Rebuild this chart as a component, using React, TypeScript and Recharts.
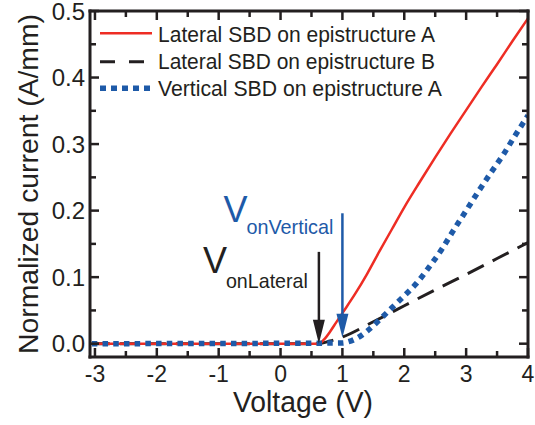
import React from "react";
import { LineChart, Line, XAxis, YAxis, ReferenceLine, Legend } from "recharts";

const FONT = "'Liberation Sans', Arial, Helvetica, sans-serif";
const INK = "#231f20";
const RED = "#ee2d24";
const BLUE = "#1e5aa8";

// Lateral SBD on epistructure A
const lateralAVoltage = [-3.05, 0.62, 0.7, 0.8, 0.9, 1.0, 1.2, 1.4, 1.6, 1.8, 2.0, 2.25, 2.5, 2.75, 3.0, 3.25, 3.5, 3.75, 4.0];
const lateralACurrent = [0, 0, 0.006, 0.018, 0.032, 0.046, 0.074, 0.105, 0.139, 0.172, 0.205, 0.243, 0.28, 0.316, 0.351, 0.386, 0.42, 0.455, 0.489];

// Lateral SBD on epistructure B
const lateralBVoltage = [-3.05, 0.62, 0.8, 1.0, 1.5, 2.0, 2.5, 3.0, 3.5, 4.0];
const lateralBCurrent = [0, 0, 0.004, 0.01, 0.033, 0.057, 0.081, 0.104, 0.128, 0.152];

// Vertical SBD on epistructure A
const verticalAVoltage = [-3.05, 1.0, 1.1, 1.25, 1.4, 1.6, 1.8, 2.0, 2.2, 2.4, 2.6, 2.8, 3.0, 3.2, 3.4, 3.6, 3.8, 4.0];
const verticalACurrent = [0, 0.001, 0.003, 0.009, 0.019, 0.036, 0.054, 0.072, 0.091, 0.115, 0.141, 0.171, 0.2, 0.229, 0.257, 0.284, 0.314, 0.343];

const voltageTicks = [-3, -2.5, -2, -1.5, -1, -0.5, 0, 0.5, 1, 1.5, 2, 2.5, 3, 3.5, 4];
const currentTicks = [0, 0.05, 0.1, 0.15, 0.2, 0.25, 0.3, 0.35, 0.4, 0.45, 0.5];

// turn-on voltage arrows (voltage, arrow top and tip in A/mm)
const onLateral = { v: 0.62, top: 0.138, tip: 0 };
const onVertical = { v: 1.0, top: 0.196, tip: 0.009 };

const toPoints = (vs: number[], is: number[]) => vs.map((v, k) => ({ v, i: is[k] }));

const series = [
  { name: "Lateral SBD on epistructure A", color: RED, dash: undefined, width: 2.5, data: toPoints(lateralAVoltage, lateralACurrent) },
  { name: "Lateral SBD on epistructure B", color: INK, dash: "18 10", width: 3, data: toPoints(lateralBVoltage, lateralBCurrent) },
  { name: "Vertical SBD on epistructure A", color: BLUE, dash: "5.5 5.2", width: 5.5, data: toPoints(verticalAVoltage, verticalACurrent) },
];
// black first so the red and blue traces sit on top of it
const drawOrder = [1, 0, 2];

const tickLen = (major: boolean) => (major ? 9 : 6);
const isMajorV = (v: number) => Number.isInteger(v);
const isMajorI = (v: number) => Math.abs(v * 10 - Math.round(v * 10)) < 1e-6;

const BottomTick = ({ x, y, payload }: any) => {
  const major = isMajorV(payload.value);
  return (
    <g>
      <line x1={x} x2={x} y1={y} y2={y - tickLen(major)} stroke={INK} strokeWidth={2.5} />
      {major && (
        <text x={x} y={y + 25} textAnchor="middle" fontSize={23} fill={INK} fontFamily={FONT}>
          {payload.value}
        </text>
      )}
    </g>
  );
};

const TopTick = ({ x, y, payload }: any) => (
  <line x1={x} x2={x} y1={y} y2={y + tickLen(isMajorV(payload.value))} stroke={INK} strokeWidth={2.5} />
);

const LeftTick = ({ x, y, payload }: any) => {
  const major = isMajorI(payload.value);
  return (
    <g>
      <line x1={x} x2={x + tickLen(major)} y1={y} y2={y} stroke={INK} strokeWidth={2.5} />
      {major && (
        <text x={x - 5} y={y + 8.5} textAnchor="end" fontSize={24} fill={INK} fontFamily={FONT}>
          {payload.value.toFixed(1)}
        </text>
      )}
    </g>
  );
};

const RightTick = ({ x, y, payload }: any) => (
  <line x1={x} x2={x - tickLen(isMajorI(payload.value))} y1={y} y2={y} stroke={INK} strokeWidth={2.5} />
);

const XTitle = ({ viewBox }: any) => (
  <text
    x={viewBox.x + viewBox.width / 2 - 6}
    y={viewBox.y + 55}
    textAnchor="middle"
    fontSize={29}
    fill={INK}
    fontFamily={FONT}
    textLength={140}
    lengthAdjust="spacingAndGlyphs"
  >
    Voltage (V)
  </text>
);

const YTitle = ({ viewBox }: any) => {
  const cx = 38;
  const cy = viewBox.y + viewBox.height / 2;
  return (
    <text
      x={cx}
      y={cy}
      transform={`rotate(-90, ${cx}, ${cy})`}
      textAnchor="middle"
      fontSize={28}
      fill={INK}
      fontFamily={FONT}
      textLength={340}
      lengthAdjust="spacingAndGlyphs"
    >
      Normalized current (A/mm)
    </text>
  );
};

// vertical arrow with a V_on label to its upper left
const arrowShape =
  (color: string, sub: string, dx: number, dy: number, subDy: number, subLen: number) => (props: any) => {
    const { x1, y1, x2, y2 } = props;
    const head = 24;
    return (
      <g>
        <line x1={x1} y1={y1} x2={x2} y2={y2 - head + 2} stroke={color} strokeWidth={2.5} />
        <polygon points={`${x2 - 6},${y2 - head} ${x2 + 6},${y2 - head} ${x2},${y2}`} fill={color} />
        <text x={x1 + dx} y={y1 + dy} fontSize={36} fill={color} fontFamily={FONT}>
          V
        </text>
        <text
          x={x1 + dx + 23}
          y={y1 + dy + subDy}
          fontSize={21}
          fill={color}
          fontFamily={FONT}
          textLength={subLen}
          lengthAdjust="spacingAndGlyphs"
        >
          {sub}
        </text>
      </g>
    );
  };

const LegendBox = () => {
  const rows = [
    { lineY: 13.3, textY: 21.7, len: 277 },
    { lineY: 41.7, textY: 49, len: 277 },
    { lineY: 68.3, textY: 75.5, len: 284 },
  ];
  const sample = [
    { dash: undefined, width: 2.5 },
    { dash: "15 14", width: 3 },
    { dash: "6 5", width: 5.5 },
  ];
  return (
    <svg width={360} height={86} style={{ display: "block" }}>
      {series.map((s, k) => (
        <g key={s.name}>
          <line
            x1={4}
            x2={56}
            y1={rows[k].lineY}
            y2={rows[k].lineY}
            stroke={s.color}
            strokeWidth={sample[k].width}
            strokeDasharray={sample[k].dash}
          />
          <text
            x={62}
            y={rows[k].textY}
            fontSize={22}
            fill={INK}
            fontFamily={FONT}
            textLength={rows[k].len}
            lengthAdjust="spacingAndGlyphs"
          >
            {s.name}
          </text>
        </g>
      ))}
    </svg>
  );
};

const frame = { stroke: INK, strokeWidth: 3, strokeLinecap: "square" as const };

export default function App() {
  return (
    <div style={{ position: "absolute", left: 0, top: 0, background: "#fff" }}>
      <LineChart width={535} height={425} margin={{ top: 10, right: 6, left: 0, bottom: 0 }}>
        <XAxis
          xAxisId="bottom"
          dataKey="v"
          type="number"
          domain={[-3.08, 4]}
          ticks={voltageTicks}
          interval={0}
          allowDataOverflow
          height={68}
          tickSize={0}
          tickMargin={0}
          tickLine={false}
          axisLine={frame}
          tick={BottomTick}
          label={XTitle}
        />
        <XAxis
          xAxisId="top"
          orientation="top"
          dataKey="v"
          type="number"
          domain={[-3.08, 4]}
          ticks={voltageTicks}
          interval={0}
          allowDataOverflow
          height={1}
          tickSize={0}
          tickMargin={0}
          tickLine={false}
          axisLine={frame}
          tick={TopTick}
        />
        <YAxis
          yAxisId="left"
          type="number"
          domain={[-0.02, 0.5]}
          ticks={currentTicks}
          interval={0}
          allowDataOverflow
          width={90}
          tickSize={0}
          tickMargin={0}
          tickLine={false}
          axisLine={frame}
          tick={LeftTick}
          label={YTitle}
        />
        <YAxis
          yAxisId="right"
          orientation="right"
          type="number"
          domain={[-0.02, 0.5]}
          ticks={currentTicks}
          interval={0}
          allowDataOverflow
          width={1}
          tickSize={0}
          tickMargin={0}
          tickLine={false}
          axisLine={frame}
          tick={RightTick}
        />
        <Legend
          layout="vertical"
          align="center"
          verticalAlign="middle"
          wrapperStyle={{ left: 96, top: 20, width: 360 }}
          content={LegendBox}
        />
        {drawOrder.map((k) => {
          const s = series[k];
          return (
            <Line
              key={s.name}
              name={s.name}
              data={s.data}
              dataKey="i"
              xAxisId="bottom"
              yAxisId="left"
              type="monotone"
              stroke={s.color}
              strokeWidth={s.width}
              strokeDasharray={s.dash}
              dot={false}
              activeDot={false}
              isAnimationActive={false}
            />
          );
        })}
        <ReferenceLine
          xAxisId="bottom"
          yAxisId="left"
          segment={[
            { x: onLateral.v, y: onLateral.top },
            { x: onLateral.v, y: onLateral.tip },
          ]}
          shape={arrowShape(INK, "onLateral", -116, 21, 15, 82)}
        />
        <ReferenceLine
          xAxisId="bottom"
          yAxisId="left"
          segment={[
            { x: onVertical.v, y: onVertical.top },
            { x: onVertical.v, y: onVertical.tip },
          ]}
          shape={arrowShape(BLUE, "onVertical", -119, 9, 12, 87)}
        />
      </LineChart>
    </div>
  );
}
